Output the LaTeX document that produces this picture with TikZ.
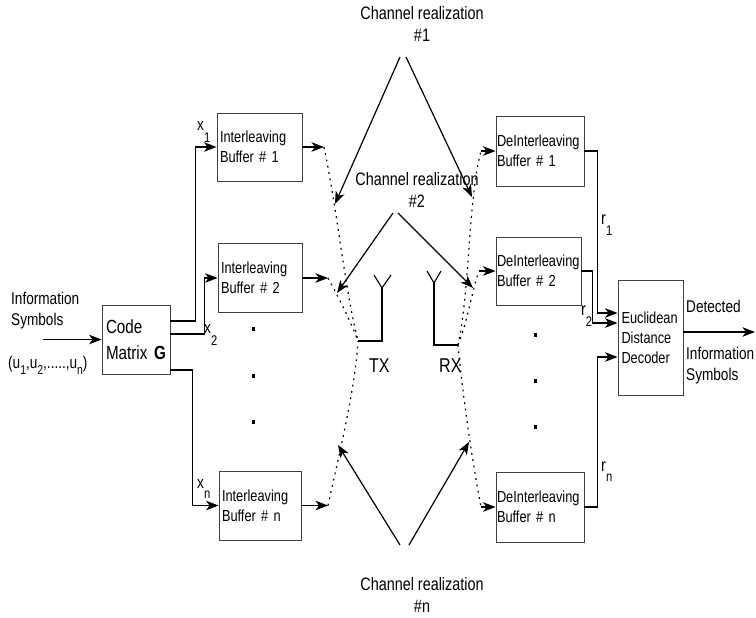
\documentclass[tikz,border=0pt]{standalone}
\usepackage{fontspec}
\setmainfont[FakeStretch=0.8]{Liberation Sans}
\usetikzlibrary{arrows.meta,calc}
\newcommand\lowsub[2]{\raisebox{-#1pt}{\fontsize{14}{14}\selectfont #2}}
\newcommand\usub[1]{\raisebox{-6pt}{\fontsize{13}{13}\selectfont #1}}
\begin{document}
\begin{tikzpicture}[x=1pt,y=-1pt,
  box/.style={draw=black!75, line width=0.9pt, rectangle, inner xsep=3pt, inner ysep=0pt, align=left, font=\fontsize{16}{20}\selectfont},
  arr/.style={-{Stealth[length=12.5pt,width=9.5pt,inset=3.5pt]}, line width=1.2pt},
  wire/.style={line width=1.1pt},
  dotline/.style={line width=1.2pt, dash pattern=on 1.8pt off 4.6pt},
  lbl/.style={inner sep=0pt, font=\fontsize{17}{21}\selectfont, align=left},
  chl/.style={inner sep=0pt, font=\fontsize{18}{22}\selectfont, align=center},
  dotmark/.style={fill=black}
]
\useasboundingbox (0,0) rectangle (756,618);

% ---- boxes
\node[box, inner xsep=4pt, text width=60pt, minimum height=69pt, font=\fontsize{19}{26}\selectfont] (cm) at (136,339.5) {Code\\Matrix\hfill\textbf{G}};
\node[box, text width=79pt, minimum height=68pt] (b1) at (259.5,147) {Interleaving\\Buffer \# 1};
\node[box, text width=78pt, minimum height=69pt] (b2) at (260,278) {Interleaving\\Buffer \# 2};
\node[box, text width=76pt, minimum height=69pt] (bn) at (260,505.5) {Interleaving\\Buffer \# n};
\node[box, inner xsep=1pt, text width=86pt, minimum height=70pt] (d1) at (540,151) {DeInterleaving\\Buffer \# 1};
\node[box, inner xsep=1pt, text width=83pt, minimum height=68pt] (d2) at (538.5,271) {DeInterleaving\\Buffer \# 2};
\node[box, inner xsep=1pt, text width=86pt, minimum height=70pt] (dn) at (540,507) {DeInterleaving\\Buffer \# n};
\node[box, inner xsep=3.5pt, text width=58pt, minimum height=115pt] (dec) at (650.5,337.5) {Euclidean\\Distance\\Decoder};

% ---- left labels
\node[lbl, anchor=north west] (info) at (11,292) {Information\\Symbols};
\node[lbl, anchor=base west] (useq) at (8,368) {(u\usub{1},u\usub{2},.....,u\usub{n})};
\coordinate (inS) at (43,339.5);
\draw[arr] (inS) -- (cm.west);

% ---- code matrix to buffers
\draw[arr] ($(cm.east)+(0,-18.5)$) -- ++(25,0) |- (b1.west);
\draw[arr] ($(cm.east)+(0,-5.5)$) -- ++(34,0) |- (b2.west);
\draw[arr] ($(cm.east)+(0,30.5)$) -- ++(22,0) |- (bn.west);
\node[lbl, anchor=base west] (x1) at (197,131) {x\lowsub{12}{1}};
\node[lbl, anchor=base west] (x2) at (204,333) {x\lowsub{12}{2}};
\node[lbl, anchor=base west] (xn) at (197,488) {x\lowsub{10}{n}};

% ---- vertical dots
\foreach \yy in {329,376,422} {
  \fill[dotmark] (251.5,\yy-2) rectangle (254.5,\yy+2);
}
\foreach \yy in {335,381,427} {
  \fill[dotmark] (533.5,\yy-2) rectangle (536.5,\yy+2);
}

% ---- buffer outputs and dotted channel paths
\coordinate (o1) at (324,147);
\coordinate (o2) at (328,278);
\coordinate (on) at (328,505.5);
\draw[arr] (b1.east) -- (o1);
\draw[arr] (b2.east) -- (o2);
\draw[arr] (bn.east) -- (on);
\coordinate (tx) at (358,341);
\coordinate (rx) at (458,345);
\draw[dotline] (o1) .. controls (338,215) and (345,290) .. (tx);
\draw[dotline] (o2) .. controls (340,300) and (350,320) .. (tx);
\draw[dotline] (on) .. controls (340,450) and (355,390) .. (tx);

\coordinate (i1) at (481,151);
\coordinate (i2) at (479,271);
\coordinate (in) at (481,507);
\draw[arr] (i1) -- (d1.west);
\draw[arr] (i2) -- (d2.west);
\draw[arr] (in) -- (dn.west);
\draw[dotline] (rx) .. controls (470,290) and (468,200) .. (i1);
\draw[dotline] (rx) .. controls (468,320) and (472,290) .. (i2);
\draw[dotline] (rx) .. controls (462,390) and (472,460) .. (in);

% ---- antennas
\coordinate (txj) at (382,288);
\draw[wire] (374,275) -- (txj) -- (391,275);
\draw[wire] (txj) -- (382,341) -- (tx);
\coordinate (rxj) at (434,283);
\draw[wire] (427,271) -- (rxj) -- (441,271);
\draw[wire] (rxj) -- (434,345) -- (rx);
\node[inner sep=0pt, font=\fontsize{20}{24}\selectfont, anchor=base west] (txl) at (369,372) {TX};
\node[inner sep=0pt, font=\fontsize{20}{24}\selectfont, anchor=base west] (rxl) at (439,372) {RX};

% ---- channel realizations
\node[chl, anchor=north] (ch1) at (422,6) {Channel realization\\\#1};
\node[chl, anchor=north] (ch2) at (417,172) {Channel realization\\\#2};
\node[chl, anchor=north] (chn) at (422,577) {Channel realization\\\#n};
\coordinate (c1l) at (400,57); \coordinate (c1r) at (406,57);
\coordinate (c1a) at (335,204); \coordinate (c1b) at (472,197);
\draw[arr] (c1l) -- (c1a);
\draw[arr] (c1r) -- (c1b);
\coordinate (c2l) at (393,213); \coordinate (c2r) at (398,213);
\coordinate (c2a) at (337,293); \coordinate (c2b) at (473,288);
\draw[arr] (c2l) -- (c2a);
\draw[arr] (c2r) -- (c2b);
\coordinate (cnl) at (400,545); \coordinate (cnr) at (409,545);
\coordinate (cna) at (338,445); \coordinate (cnb) at (469,442);
\draw[arr] (cnl) -- (cna);
\draw[arr] (cnr) -- (cnb);

% ---- deinterleavers to decoder
\draw[arr] (d1.east) -- ++(13,0) |- ($(dec.west)+(0,-24.5)$);
\draw[arr] (d2.east) -- ++(11,0) |- ($(dec.west)+(0,-14.5)$);
\draw[arr] (dn.east) -- ++(13,0) |- ($(dec.west)+(0,19.5)$);
\node[lbl, font=\fontsize{18}{22}\selectfont, anchor=base west] (r1) at (601,224) {r\lowsub{11}{1}};
\node[lbl, font=\fontsize{18}{22}\selectfont, anchor=base west] (r2) at (581,315) {r\lowsub{11}{2}};
\node[lbl, font=\fontsize{18}{22}\selectfont, anchor=base west] (rn) at (601,471) {r\lowsub{10}{n}};

% ---- output
\coordinate (outE) at (755,332);
\draw[arr] (dec.east |- outE) -- (outE);
\node[lbl, anchor=base west] (det) at (686,312) {Detected};
\node[lbl, anchor=north west] (infoo) at (686,347) {Information\\Symbols};
\end{tikzpicture}
\end{document}
